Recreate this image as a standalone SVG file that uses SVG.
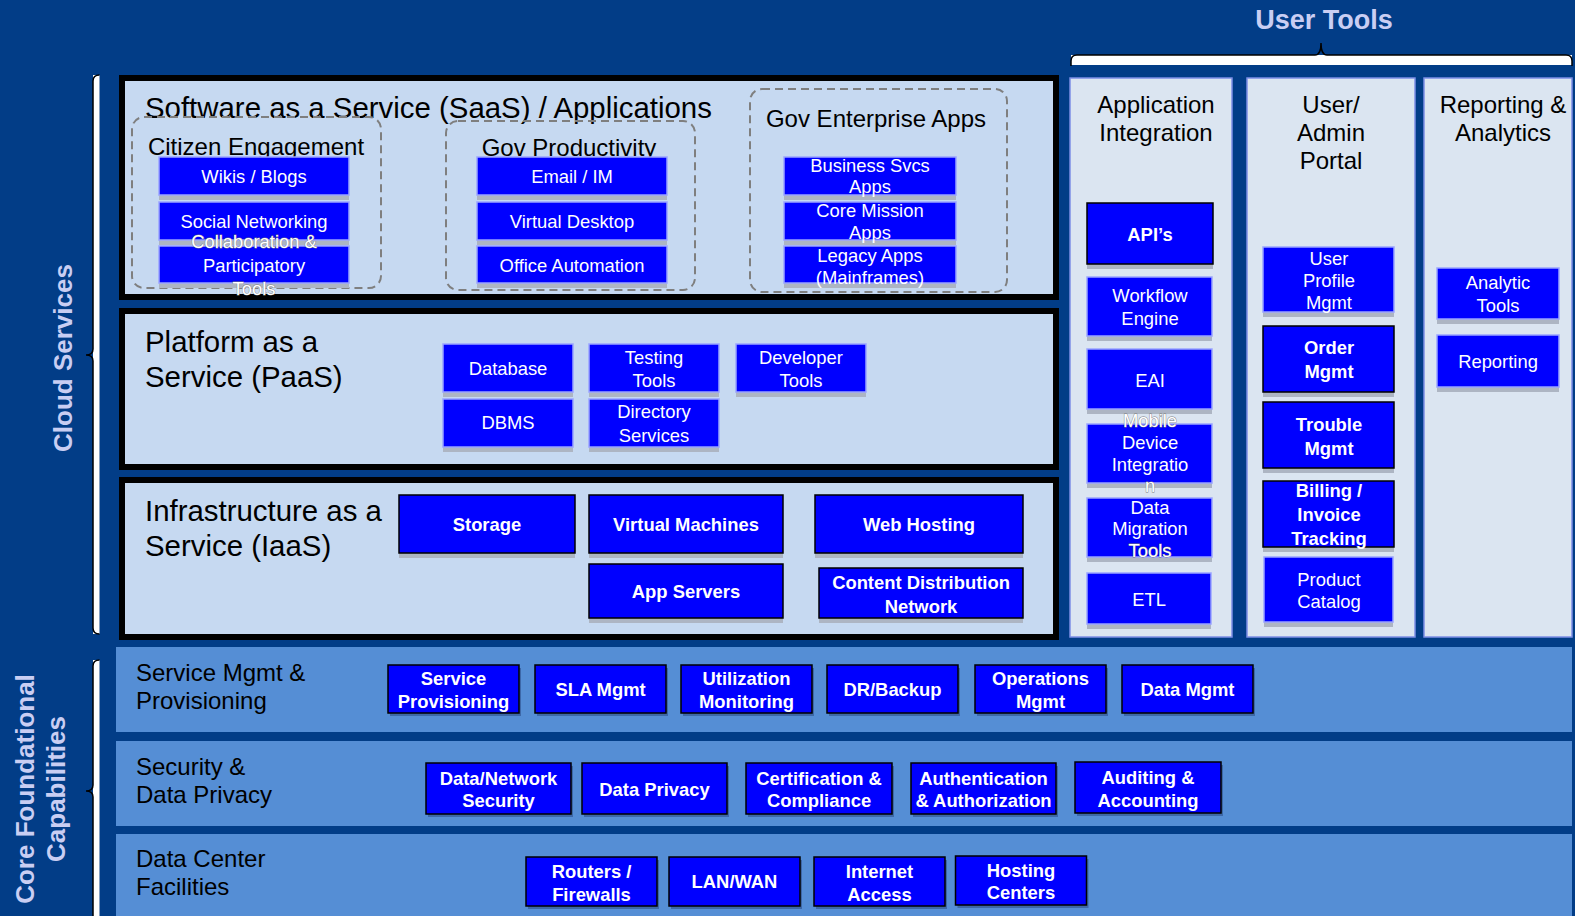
<svg xmlns="http://www.w3.org/2000/svg" width="1575" height="916" viewBox="0 0 1575 916">
<style>
text{font-family:"Liberation Sans",Arial,Helvetica,sans-serif}
.bg{fill:#023d87}
.panel{fill:#c6d9f1;stroke:#000;stroke-width:6}
.col{fill:#dbe5f1;stroke:#7d8ee6;stroke-width:1.5}
.row{fill:#558ed5}
.dash{fill:none;stroke:#7f7f7f;stroke-width:2;stroke-dasharray:8 5}
.nl{fill:#0000ff;stroke:#9aa4ff;stroke-width:1.5}
.nb{fill:#0000ff;stroke:#000;stroke-width:1.5}
.sh{fill:#adb5c3}
.shr{fill:#3d68a8}
.tn{fill:#fff;font-size:18.4px;text-anchor:middle}
.tb{fill:#fff;font-size:18.4px;font-weight:bold;text-anchor:middle}
.ov{stroke:#7a7a7a;stroke-width:0.8px;paint-order:stroke}
.h1{fill:#000;font-size:29.4px}
.h2{fill:#000;font-size:24px}
.hc{fill:#000;font-size:24px;text-anchor:middle}
.lav{fill:#c9cef3;font-weight:bold;text-anchor:middle}
.br{fill:#fff}
.brl{fill:none;stroke:#000;stroke-width:1.5}
</style>
<rect class="bg" x="0" y="0" width="1575" height="916"/>

<!-- Group labels -->
<text class="lav" x="1324" y="29" font-size="27">User Tools</text>
<text class="lav" font-size="26" transform="translate(72,358) rotate(-90)">Cloud Services</text>
<text class="lav" font-size="26" transform="translate(34,789) rotate(-90)">Core Foundational</text>
<text class="lav" font-size="26" transform="translate(65,789) rotate(-90)">Capabilities</text>

<!-- Braces -->
<g id="connectors">
  <rect class="br" x="93" y="75" width="6.5" height="559"/>
  <path class="brl" d="M99.5,75 Q93,75 93,81 L93,349 Q93,355 86,355 Q93,355 93,361 L93,628 Q93,634 99.5,634"/>
  <rect class="br" x="93" y="660" width="6.5" height="260"/>
  <path class="brl" d="M99.5,660 Q93,660 93,666 L93,785 Q93,791 86,791 Q93,791 93,797 L93,920"/>
  <rect class="br" x="1071" y="55" width="501" height="10"/>
  <path class="brl" d="M1071,66 L1071,61 Q1071,55 1077,55 L1315,55 Q1321,55 1321,43 Q1321,55 1327,55 L1566,55 Q1572,55 1572,61 L1572,66"/>
</g>

<!-- Layer panels -->
<g id="saas">
  <rect class="panel" x="122" y="78" width="934" height="219"/>
  <text class="h1" x="145" y="118">Software as a Service (SaaS) / Applications</text>
</g>
<g id="paas">
  <rect class="panel" x="122" y="311" width="934" height="156"/>
  <text class="h1" x="145" y="352">Platform as a</text>
  <text class="h1" x="145" y="387">Service (PaaS)</text>
</g>
<g id="iaas">
  <rect class="panel" x="122" y="480" width="934" height="157"/>
  <text class="h1" x="145" y="521">Infrastructure as a</text>
  <text class="h1" x="145" y="556">Service (IaaS)</text>
</g>

<!-- SaaS groups -->
<g id="citizen-engagement">
  <rect class="dash" x="132" y="117" width="249" height="171" rx="12"/>
  <text class="hc" x="256" y="155">Citizen Engagement</text>
</g>
<g id="gov-productivity">
  <rect class="dash" x="446" y="121" width="249" height="169" rx="12"/>
  <text class="hc" x="569" y="156">Gov Productivity</text>
</g>
<g id="gov-enterprise">
  <rect class="dash" x="750" y="89" width="257" height="203" rx="12"/>
  <text class="hc" x="876" y="127">Gov Enterprise Apps</text>
</g>

<g id="wikis"><rect class="sh" x="159" y="162" width="190" height="38"/><rect class="nl" x="159" y="157" width="190" height="38"/><text class="tn" x="254" y="183">Wikis / Blogs</text></g>
<g id="social"><rect class="sh" x="159" y="207" width="190" height="38"/><rect class="nl" x="159" y="202" width="190" height="38"/><text class="tn" x="254" y="228">Social Networking</text></g>
<g id="collab"><rect class="sh" x="159" y="251" width="190" height="37"/><rect class="nl" x="159" y="246" width="190" height="37"/><text class="tn ov" x="254" y="248">Collaboration &amp;</text><text class="tn" x="254" y="272">Participatory</text><text class="tn ov" x="254" y="295">Tools</text></g>

<g id="email"><rect class="sh" x="477" y="162" width="190" height="38"/><rect class="nl" x="477" y="157" width="190" height="38"/><text class="tn" x="572" y="183">Email / IM</text></g>
<g id="vdesktop"><rect class="sh" x="477" y="207" width="190" height="38"/><rect class="nl" x="477" y="202" width="190" height="38"/><text class="tn" x="572" y="228">Virtual Desktop</text></g>
<g id="office"><rect class="sh" x="477" y="251" width="190" height="37"/><rect class="nl" x="477" y="246" width="190" height="37"/><text class="tn" x="572" y="272">Office Automation</text></g>

<g id="business-svcs"><rect class="sh" x="784" y="162" width="172" height="38"/><rect class="nl" x="784" y="157" width="172" height="38"/><text class="tn" x="870" y="172">Business Svcs</text><text class="tn" x="870" y="193">Apps</text></g>
<g id="core-mission"><rect class="sh" x="784" y="207" width="172" height="38"/><rect class="nl" x="784" y="202" width="172" height="38"/><text class="tn" x="870" y="217">Core Mission</text><text class="tn" x="870" y="239">Apps</text></g>
<g id="legacy"><rect class="sh" x="784" y="251" width="172" height="37"/><rect class="nl" x="784" y="246" width="172" height="37"/><text class="tn" x="870" y="262">Legacy Apps</text><text class="tn" x="870" y="284">(Mainframes)</text></g>

<!-- PaaS nodes -->
<g id="database"><rect class="sh" x="443" y="349" width="130" height="48"/><rect class="nl" x="443" y="344" width="130" height="48"/><text class="tn" x="508" y="375">Database</text></g>
<g id="dbms"><rect class="sh" x="443" y="404" width="130" height="48"/><rect class="nl" x="443" y="399" width="130" height="48"/><text class="tn" x="508" y="429">DBMS</text></g>
<g id="testing"><rect class="sh" x="589" y="349" width="130" height="48"/><rect class="nl" x="589" y="344" width="130" height="48"/><text class="tn" x="654" y="364">Testing</text><text class="tn" x="654" y="387">Tools</text></g>
<g id="directory"><rect class="sh" x="589" y="404" width="130" height="48"/><rect class="nl" x="589" y="399" width="130" height="48"/><text class="tn" x="654" y="418">Directory</text><text class="tn" x="654" y="442">Services</text></g>
<g id="developer"><rect class="sh" x="736" y="349" width="130" height="48"/><rect class="nl" x="736" y="344" width="130" height="48"/><text class="tn" x="801" y="364">Developer</text><text class="tn" x="801" y="387">Tools</text></g>

<!-- IaaS nodes -->
<g id="storage"><rect class="sh" x="399" y="500" width="176" height="58"/><rect class="nb" x="399" y="495" width="176" height="58"/><text class="tb" x="487" y="531">Storage</text></g>
<g id="vms"><rect class="sh" x="589" y="500" width="194" height="58"/><rect class="nb" x="589" y="495" width="194" height="58"/><text class="tb" x="686" y="531">Virtual Machines</text></g>
<g id="webhosting"><rect class="sh" x="815" y="500" width="208" height="58"/><rect class="nb" x="815" y="495" width="208" height="58"/><text class="tb" x="919" y="531">Web Hosting</text></g>
<g id="appservers"><rect class="sh" x="589" y="569" width="194" height="54"/><rect class="nb" x="589" y="564" width="194" height="54"/><text class="tb" x="686" y="598">App Servers</text></g>
<g id="cdn"><rect class="sh" x="819" y="573" width="204" height="50"/><rect class="nb" x="819" y="568" width="204" height="50"/><text class="tb" x="921" y="589">Content Distribution</text><text class="tb" x="921" y="613">Network</text></g>

<!-- User tools columns -->
<g id="app-integration">
  <rect class="col" x="1070" y="78" width="162" height="559"/>
  <text class="hc" x="1156" y="113">Application</text>
  <text class="hc" x="1156" y="141">Integration</text>
</g>
<g id="user-admin-portal">
  <rect class="col" x="1247" y="78" width="168" height="559"/>
  <text class="hc" x="1331" y="113">User/</text>
  <text class="hc" x="1331" y="141">Admin</text>
  <text class="hc" x="1331" y="169">Portal</text>
</g>
<g id="reporting-analytics">
  <rect class="col" x="1424" y="78" width="148" height="559"/>
  <text class="hc" x="1503" y="113">Reporting &amp;</text>
  <text class="hc" x="1503" y="141">Analytics</text>
</g>

<g id="apis"><rect class="sh" x="1087" y="208" width="126" height="61"/><rect class="nb" x="1087" y="203" width="126" height="61"/><text class="tb" x="1150" y="241">API’s</text></g>
<g id="workflow"><rect class="sh" x="1087" y="282" width="125" height="59"/><rect class="nl" x="1087" y="277" width="125" height="59"/><text class="tn" x="1150" y="302">Workflow</text><text class="tn" x="1150" y="325">Engine</text></g>
<g id="eai"><rect class="sh" x="1087" y="354" width="125" height="60"/><rect class="nl" x="1087" y="349" width="125" height="60"/><text class="tn" x="1150" y="387">EAI</text></g>
<g id="mobile"><rect class="sh" x="1087" y="429" width="125" height="59"/><rect class="nl" x="1087" y="424" width="125" height="59"/><text class="tn ov" x="1150" y="427">Mobile</text><text class="tn" x="1150" y="449">Device</text><text class="tn" x="1150" y="471">Integratio</text><text class="tn ov" x="1150" y="492">n</text></g>
<g id="datamigration"><rect class="sh" x="1087" y="503" width="125" height="59"/><rect class="nl" x="1087" y="498" width="125" height="59"/><text class="tn" x="1150" y="514">Data</text><text class="tn" x="1150" y="535">Migration</text><text class="tn ov" x="1150" y="557">Tools</text></g>
<g id="etl"><rect class="sh" x="1087" y="578" width="124" height="51"/><rect class="nl" x="1087" y="573" width="124" height="51"/><text class="tn" x="1149" y="606">ETL</text></g>

<g id="userprofile"><rect class="sh" x="1263" y="252" width="131" height="65"/><rect class="nl" x="1263" y="247" width="131" height="65"/><text class="tn" x="1329" y="265">User</text><text class="tn" x="1329" y="287">Profile</text><text class="tn" x="1329" y="309">Mgmt</text></g>
<g id="ordermgmt"><rect class="sh" x="1263" y="331" width="131" height="66"/><rect class="nb" x="1263" y="326" width="131" height="66"/><text class="tb" x="1329" y="354">Order</text><text class="tb" x="1329" y="378">Mgmt</text></g>
<g id="troublemgmt"><rect class="sh" x="1263" y="407" width="131" height="66"/><rect class="nb" x="1263" y="402" width="131" height="66"/><text class="tb" x="1329" y="431">Trouble</text><text class="tb" x="1329" y="455">Mgmt</text></g>
<g id="billing"><rect class="sh" x="1263" y="486" width="131" height="66"/><rect class="nb" x="1263" y="481" width="131" height="66"/><text class="tb" x="1329" y="497">Billing /</text><text class="tb" x="1329" y="521">Invoice</text><text class="tb" x="1329" y="545">Tracking</text></g>
<g id="productcatalog"><rect class="sh" x="1264" y="562" width="129" height="65"/><rect class="nl" x="1264" y="557" width="129" height="65"/><text class="tn" x="1329" y="586">Product</text><text class="tn" x="1329" y="608">Catalog</text></g>

<g id="analytictools"><rect class="sh" x="1437" y="273" width="122" height="51"/><rect class="nl" x="1437" y="268" width="122" height="51"/><text class="tn" x="1498" y="289">Analytic</text><text class="tn" x="1498" y="312">Tools</text></g>
<g id="reporting"><rect class="sh" x="1437" y="340" width="122" height="52"/><rect class="nl" x="1437" y="335" width="122" height="52"/><text class="tn" x="1498" y="368">Reporting</text></g>

<!-- Core foundational rows -->
<g id="service-mgmt">
  <rect class="row" x="116" y="647" width="1456" height="85"/>
  <text class="h2" x="136" y="681">Service Mgmt &amp;</text>
  <text class="h2" x="136" y="709">Provisioning</text>
</g>
<g id="security">
  <rect class="row" x="116" y="741" width="1456" height="85"/>
  <text class="h2" x="136" y="775">Security &amp;</text>
  <text class="h2" x="136" y="803">Data Privacy</text>
</g>
<g id="datacenter">
  <rect class="row" x="116" y="834" width="1456" height="90"/>
  <text class="h2" x="136" y="867">Data Center</text>
  <text class="h2" x="136" y="895">Facilities</text>
</g>

<g id="svc-prov"><rect class="shr" x="390" y="668" width="131" height="48"/><rect class="nb" x="388" y="665" width="131" height="48"/><text class="tb" x="453.5" y="684.5">Service</text><text class="tb" x="453.5" y="707.5">Provisioning</text></g>
<g id="sla"><rect class="shr" x="537" y="668" width="131" height="48"/><rect class="nb" x="535" y="665" width="131" height="48"/><text class="tb" x="600.5" y="696">SLA Mgmt</text></g>
<g id="util"><rect class="shr" x="683" y="668" width="131" height="48"/><rect class="nb" x="681" y="665" width="131" height="48"/><text class="tb" x="746.5" y="684.5">Utilization</text><text class="tb" x="746.5" y="707.5">Monitoring</text></g>
<g id="dr"><rect class="shr" x="829" y="668" width="131" height="48"/><rect class="nb" x="827" y="665" width="131" height="48"/><text class="tb" x="892.5" y="696">DR/Backup</text></g>
<g id="ops"><rect class="shr" x="977" y="668" width="131" height="48"/><rect class="nb" x="975" y="665" width="131" height="48"/><text class="tb" x="1040.5" y="684.5">Operations</text><text class="tb" x="1040.5" y="707.5">Mgmt</text></g>
<g id="datamgmt"><rect class="shr" x="1124" y="668" width="131" height="48"/><rect class="nb" x="1122" y="665" width="131" height="48"/><text class="tb" x="1187.5" y="696">Data Mgmt</text></g>

<g id="dns"><rect class="shr" x="428" y="766" width="145" height="51"/><rect class="nb" x="426" y="763" width="145" height="51"/><text class="tb" x="498.5" y="785">Data/Network</text><text class="tb" x="498.5" y="807">Security</text></g>
<g id="dataprivacy"><rect class="shr" x="584" y="766" width="145" height="51"/><rect class="nb" x="582" y="763" width="145" height="51"/><text class="tb" x="654.5" y="796">Data Privacy</text></g>
<g id="cert"><rect class="shr" x="748" y="766" width="146" height="51"/><rect class="nb" x="746" y="763" width="146" height="51"/><text class="tb" x="819" y="785">Certification &amp;</text><text class="tb" x="819" y="807">Compliance</text></g>
<g id="auth"><rect class="shr" x="913" y="766" width="145" height="51"/><rect class="nb" x="911" y="763" width="145" height="51"/><text class="tb" x="983.5" y="785">Authentication</text><text class="tb" x="983.5" y="807">&amp; Authorization</text></g>
<g id="audit"><rect class="shr" x="1077" y="765" width="146" height="51"/><rect class="nb" x="1075" y="762" width="146" height="51"/><text class="tb" x="1148" y="784">Auditing &amp;</text><text class="tb" x="1148" y="807">Accounting</text></g>

<g id="routers"><rect class="shr" x="528" y="860" width="131" height="49"/><rect class="nb" x="526" y="857" width="131" height="49"/><text class="tb" x="591.5" y="878">Routers /</text><text class="tb" x="591.5" y="901">Firewalls</text></g>
<g id="lanwan"><rect class="shr" x="671" y="860" width="131" height="49"/><rect class="nb" x="669" y="857" width="131" height="49"/><text class="tb" x="734.5" y="888">LAN/WAN</text></g>
<g id="internet"><rect class="shr" x="816" y="860" width="131" height="49"/><rect class="nb" x="814" y="857" width="131" height="49"/><text class="tb" x="879.5" y="878">Internet</text><text class="tb" x="879.5" y="901">Access</text></g>
<g id="hosting"><rect class="shr" x="957.5" y="859" width="131" height="49"/><rect class="nb" x="955.5" y="856" width="131" height="49"/><text class="tb" x="1021" y="877">Hosting</text><text class="tb" x="1021" y="899">Centers</text></g>
</svg>
